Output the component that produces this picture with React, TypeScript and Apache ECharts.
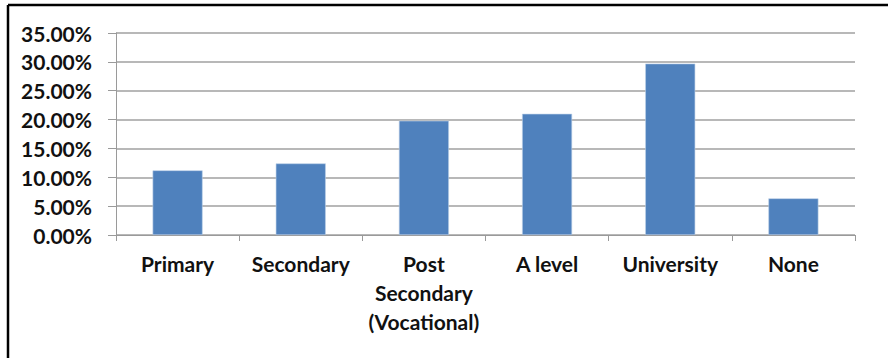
import React, { useEffect, useRef } from "react";
import * as echarts from "echarts";

// Education levels and their share of respondents (percent)
const categories = ["Primary", "Secondary", "Post\nSecondary\n(Vocational)", "A level", "University", "None"];
const shares = [11.2, 12.4, 19.8, 21.0, 29.7, 6.35];
const yMin = 0;
const yMax = 35;
const yStep = 5;

const FONT = "Lato, 'Open Sans', sans-serif";

export default function App() {
  const ref = useRef<HTMLDivElement>(null);

  useEffect(() => {
    document.body.style.margin = "0";
    if (!ref.current) return;
    const chart = echarts.init(ref.current, null, { renderer: "svg" });
    chart.setOption({
      animation: false,
      backgroundColor: "#ffffff",
      grid: { left: 116, right: 33, top: 33, bottom: 123 },
      graphic: [
        {
          type: "line",
          shape: { x1: 8, y1: 5, x2: 888, y2: 5 },
          style: { stroke: "#000000", lineWidth: 2.5 },
        },
        {
          type: "line",
          shape: { x1: 8, y1: 5, x2: 8, y2: 358 },
          style: { stroke: "#000000", lineWidth: 2.5 },
        },
      ],
      xAxis: {
        type: "category",
        data: categories,
        boundaryGap: true,
        axisLine: { show: true, lineStyle: { color: "#9a9a9a", width: 1 } },
        axisTick: { show: true, length: 6, alignWithLabel: false, lineStyle: { color: "#9a9a9a" } },
        axisLabel: {
          interval: 0,
          margin: 14,
          color: "#111111",
          fontFamily: FONT,
          fontWeight: "bold",
          fontSize: 21,
          lineHeight: 29,
          verticalAlign: "top",
        },
        splitLine: { show: false },
      },
      yAxis: {
        type: "value",
        min: yMin,
        max: yMax,
        interval: yStep,
        axisLine: { show: true, lineStyle: { color: "#9a9a9a", width: 1 } },
        axisTick: { show: true, length: 8, lineStyle: { color: "#9a9a9a" } },
        axisLabel: {
          margin: 24,
          color: "#111111",
          fontFamily: FONT,
          fontWeight: "bold",
          fontSize: 21,
          formatter: (v: number) => v.toFixed(2) + "%",
        },
        splitLine: { show: true, lineStyle: { color: "#a0a0a0", width: 1.5 } },
      },
      series: [
        {
          type: "bar",
          data: shares,
          barWidth: 50,
          itemStyle: { color: "#4F81BD", borderColor: "#bcd0e8", borderWidth: 0.6 },
        },
      ],
    });
    return () => chart.dispose();
  }, []);

  return <div ref={ref} style={{ width: 888, height: 358 }} />;
}
